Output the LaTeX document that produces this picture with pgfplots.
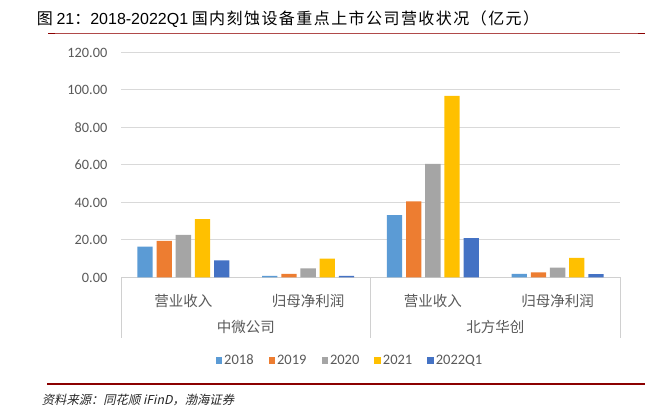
\documentclass[border=0pt]{standalone}
\usepackage{fontspec}
\setmainfont{Carlito}
\newfontfamily\cjk{Noto Sans CJK SC}
\newfontfamily\cjktitle[LetterSpace=9]{Noto Sans CJK SC}
\newfontfamily\cjkit[FakeSlant=0.22]{Noto Sans CJK SC}
\newfontfamily\arial{Liberation Sans}
\usepackage{pgfplots}
\pgfplotsset{compat=1.18}
\definecolor{c18}{HTML}{5B9BD5}
\definecolor{c19}{HTML}{ED7D31}
\definecolor{c20}{HTML}{A5A5A5}
\definecolor{c21}{HTML}{FFC000}
\definecolor{c22}{HTML}{4472C4}
\definecolor{textgray}{HTML}{595959}
\definecolor{gridgray}{HTML}{D9D9D9}
\definecolor{boxgray}{HTML}{D0D0D0}
\definecolor{redline}{HTML}{B04A4A}
\definecolor{darkred}{HTML}{8B0000}
\begin{document}
\begin{tikzpicture}
\path[use as bounding box] (0,0) rectangle (656pt,409pt);
% title
\node[anchor=west, inner sep=0pt, text=black] at (36.7pt,389.5pt)
  {\fontsize{16}{18}\selectfont{\cjk 图}\ {\arial 21}{\cjk ：}{\arial 2018-2022Q1} {\cjktitle 国内刻蚀设备重点上市公司营收状况（亿元）}};
\draw[redline, line width=0.8pt] (48pt,376pt) -- (645pt,376pt);
\draw[darkred, line width=1.5pt] (48pt,375.6pt) -- (55pt,375.6pt);
\draw[darkred, line width=1.5pt] (638pt,375.6pt) -- (645pt,375.6pt);
% source
\draw[darkred, line width=1.2pt] (47pt,25pt) -- (645pt,25pt);
\draw[darkred, line width=1.8pt] (47pt,24.8pt) -- (55pt,24.8pt);
\draw[darkred, line width=1.8pt] (638pt,24.8pt) -- (645pt,24.8pt);
\node[anchor=west, inner sep=0pt, text=black!85] at (41.7pt,9pt)
  {\cjkit\fontsize{12.3}{14}\selectfont 资料来源：同花顺 iFinD，渤海证券};

\begin{axis}[
    at={(121pt,131.5pt)}, anchor=south west,
    scale only axis,
    width=499pt, height=225pt,
    ybar=3.9pt, bar width=15.3pt,
    xmin=-0.5, xmax=3.5,
    ymin=0, ymax=120,
    ytick={0,20,...,120},
    xtick={0,1,2,3},
    xticklabels={营业收入,归母净利润,营业收入,归母净利润},
    axis x line*=bottom, axis y line*=left,
    x axis line style={draw=boxgray, line width=1pt, -},
    y axis line style={draw=none},
    xtick style={draw=none}, ytick style={draw=none},
    ymajorgrids, major grid style={draw=gridgray, line width=1pt},
    /pgf/number format/assume math mode=true,
    yticklabel style={/pgf/number format/fixed, /pgf/number format/fixed zerofill,
        /pgf/number format/precision=2, font=\fontsize{14.3}{16}\selectfont,
        text=textgray, anchor=east, inner sep=0pt, xshift=-13.5pt},
    xticklabel style={font=\cjk\fontsize{14.5}{16}\selectfont, text=textgray,
        anchor=center, inner sep=0pt, yshift=-19.5pt},
    extra x ticks={-0.5,1.5,3.5},
    extra x tick labels={,,},
    extra x tick style={grid=none, major tick length=60pt, tick align=outside,
        xtick style={draw=boxgray, line width=1pt}},
    clip=false,
    legend columns=5,
    legend image code/.code={\fill[#1] (0pt,-3.25pt) rectangle (6.5pt,3.25pt);},
    legend style={at={(0.459,-0.369)}, anchor=center, draw=none, fill=none,
        font=\fontsize{14.5}{16}\selectfont, text=textgray,
        /tikz/every even column/.append style={column sep=13pt}},
]
\addplot[fill=c18, draw=none] coordinates {(0,16.4) (1,0.9) (2,33.2) (3,1.9)};
\addplot[fill=c19, draw=none] coordinates {(0,19.5) (1,1.9) (2,40.6) (3,2.7)};
\addplot[fill=c20, draw=none] coordinates {(0,22.7) (1,4.9) (2,60.6) (3,5.2)};
\addplot[fill=c21, draw=none] coordinates {(0,31.1) (1,10.1) (2,96.8) (3,10.5)};
\addplot[fill=c22, draw=none] coordinates {(0,9.1) (1,0.8) (2,21.0) (3,1.8)};
\legend{2018,2019,2020,2021,2022Q1}
\node[font=\cjk\fontsize{14.5}{16}\selectfont, text=textgray] at (axis cs:0.5,0) [yshift=-49.5pt] {中微公司};
\node[font=\cjk\fontsize{14.5}{16}\selectfont, text=textgray] at (axis cs:2.5,0) [yshift=-49.5pt] {北方华创};
\end{axis}
\end{tikzpicture}
\end{document}
